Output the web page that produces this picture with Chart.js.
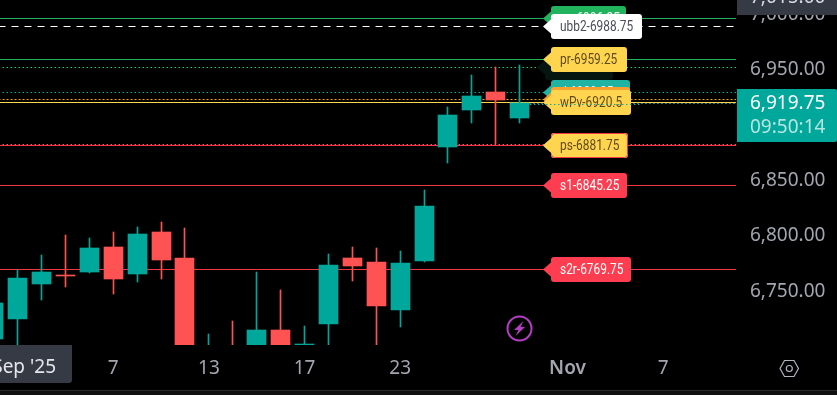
<!DOCTYPE html>
<html><head><meta charset="utf-8">
<style>html,body{margin:0;padding:0;background:#000;overflow:hidden}canvas{display:block}</style>
<script src="https://cdn.jsdelivr.net/npm/chart.js@4"></script>
</head><body><canvas id="c" width="837" height="395"></canvas>
<script>
const candleIndex = [0,1,2,3,4,5,6,7,8,9,10,11,12,13,14,15,16,17,18,19,20,21,22];
const opens  = [6707,6725.25,6756.75,6764.5,6767.5,6790,6765.75,6803.5,6780,6670,6695,6690,6715,6701.75,6720.5,6780,6776.5,6733.25,6777.5,6880.25,6913.75,6930,6906.5];
const closes = [6739.5,6762,6767.5,6764.25,6789.25,6761.25,6801.75,6778.25,6690,6695,6675,6715,6690,6702.5,6773.75,6773,6736.75,6775.5,6827,6909.25,6926.25,6922.75,6919.75];
const highs  = [6745,6769.5,6782.75,6800.75,6798.25,6803.5,6808,6812.5,6807.25,6711.5,6723.25,6767.5,6751.25,6718.75,6783.75,6790,6789.25,6786.5,6841.5,6916.25,6945.25,6952.5,6954.25];
const lows   = [6700,6695,6742.5,6754,6766.5,6747.75,6758.5,6761.25,6680,6660,6665,6685,6680,6701.75,6695,6759.25,6695,6717.75,6776.5,6865.75,6902,6883,6902];

const xTickValues = [5,9,13,17,24,28];
const xTickLabels = ['7','13','17','23','Nov','7'];
const yTickValues = [6750,6800,6850,6950,7000];
const yTickLabels = ['6,750.00','6,800.00','6,850.00','6,950.00','7,000.00'];

const levelValues = [6996.25,6988.75,6959.25,6951.75,6929.25,6922.75,6920.5,6919.75,6881.75,6882.5,6845.25,6769.75];
const levelColors = ['#22b35e','#ffffff','#22b35e','#22c55e','#14a89a','#f5a030','#ffd54f','#14a89a','#f23645','#ff4d6d','#f23645','#f23645'];
const levelDash   = [[],[7,6],[],[1.5,2.5],[1.5,2.5],[2,2],[],[1.5,2.5],[],[1.5,2.5],[],[]];
const levelStart  = [0,0,0,0,0,0,0,22.4,0,0,0,0];

const tagTexts  = ['pp-6996.25','ubb2-6988.75','wR-6951.75','pr-6959.25','tl-6929.25','oP-6922.75','wPv-6920.5','ps-6881.75','s1-6845.25','s2r-6769.75'];
const tagValues = [6996.25,6988.75,6951.75,6959.25,6929.25,6922.75,6920.5,6881.75,6845.25,6769.75];
const tagFills  = ['#22b35e','#ffffff','#04160f','#ffd54f','#1eb3a3','#f5a030','#ffd54f','#ffd54f','#ff3d50','#ff3d50'];
const tagInk    = ['#ffffff','#4a4e5a','#04160f','#5f4a20','#ffffff','#ffffff','#5f4a20','#5f4a20','#ffffff','#ffffff'];
const tagWidths = [75,91,68,76,79,79,80,77,76,80];

const GREEN='#00a79b', RED='#ff5252';
const candleColors = opens.map((o,i)=>closes[i]>=o?GREEN:RED);
const FONT='"Noto Sans"';

const wicks = candleIndex.map((x,i)=>({x,y:[lows[i],highs[i]]}));
const bodies = candleIndex.map((x,i)=>({x,y:[opens[i],closes[i]]}));

const levelSets = levelValues.map((v,i)=>({
  type:'line', order:5,
  data:[{x:levelStart[i]||0.2,y:v},{x:31.1,y:v}],
  borderColor:levelColors[i], borderWidth:1, borderDash:levelDash[i],
  pointRadius:0, tension:0, clip:true
}));

function rr(ctx,x,y,w,h,r){ctx.beginPath();ctx.roundRect(x,y,w,h,r);ctx.fill();}
function noPad(s){s.paddingLeft=0;s.paddingRight=0;s.paddingTop=0;s.paddingBottom=0;}

const snap = {
  id:'snap',
  beforeDatasetsDraw(chart){
    chart.data.datasets.forEach((d,i)=>{
      const meta=chart.getDatasetMeta(i);
      meta.data.forEach(el=>{
        if(d.type==='line'){el.y=Math.floor(el.y)+0.5;}
        else{
          el.x=Math.floor(el.x)+0.5;
          let a=Math.round(el.y),b=Math.round(el.base);
          if(a===b)b=a+1;
          el.y=a;el.base=b;
        }
      });
    });
  }
};

const overlay = {
  id:'overlay',
  beforeDraw(chart){
    const c=chart.ctx;
    c.save();c.fillStyle='#000';c.fillRect(0,0,837,395);
    c.fillStyle='#101010';c.fillRect(0,391,837,4);
    c.fillStyle='#2a2a2a';c.fillRect(0,390,837,1);
    c.restore();
  },
  afterDraw(chart){
    const c=chart.ctx, y=chart.scales.y;
    c.save();
    c.textBaseline='middle';c.textAlign='left';
    tagTexts.forEach((t,i)=>{
      const py=Math.floor(y.getPixelForValue(tagValues[i]))+0.5;
      const x0=i===2?545:551;
      c.fillStyle=tagFills[i];
      rr(c,x0,py-12.5,tagWidths[i],25,3);
      c.beginPath();c.moveTo(x0+1,py-8);c.lineTo(x0-8,py);c.lineTo(x0+1,py+8);c.closePath();c.fill();
      if(i===7){
        c.strokeStyle='#f23645';c.lineWidth=1;
        c.beginPath();c.roundRect(x0+.5,py-12,tagWidths[i]-1,24,3);c.stroke();
        c.fillStyle=tagFills[i];c.fillRect(x0,py-8,3,16);
        c.beginPath();c.moveTo(x0+1,py-8);c.lineTo(x0-8,py);c.lineTo(x0+1,py+8);c.closePath();c.fill();
      }
      c.save();
      c.translate(x0+9,py+0.5);c.scale(0.85,1);
      c.font='14px Roboto';c.fillStyle=tagInk[i];
      c.fillText(t,0,0);
      c.restore();
    });
    c.strokeStyle='#14a89a';c.setLineDash([1.5,2.5]);c.lineWidth=1;
    const dy=Math.floor(y.getPixelForValue(levelValues[7]))+1.5;
    c.beginPath();c.moveTo(530,dy);c.lineTo(640,dy);c.stroke();c.setLineDash([]);
    c.save();c.beginPath();c.rect(737,0,100,15);c.clip();
    c.fillStyle='#363a45';c.fillRect(737,0,100,15);
    c.fillStyle='#d8dbe2';c.font='19px '+FONT;c.textAlign='left';c.fillText('7,015.00',750,-2);
    c.restore();
    c.fillStyle='#00a79b';c.beginPath();c.roundRect(737,89,100,53,[0,2,2,0]);c.fill();
    c.textAlign='left';c.font='19px '+FONT;c.fillStyle='#ffffff';c.fillText('6,919.75',750,104);
    c.fillStyle='#b5e5e0';c.fillText('09:50:14',750,128);
    c.fillStyle='#363a45';c.beginPath();c.roundRect(-10,345,82,38,[0,0,3,0]);c.fill();
    c.fillStyle='#e4e6eb';c.textAlign='right';c.font='19px '+FONT;c.fillText("Sep '25",56,368);
    c.strokeStyle='#b53fc4';c.lineWidth=2;c.beginPath();c.arc(519.5,328.5,12,0,Math.PI*2);c.stroke();
    c.fillStyle='#b53fc4';c.beginPath();
    [[523.5,321],[514,330],[518.5,330],[515.5,336],[525,327],[520.5,327]].forEach((p,i)=>i?c.lineTo(p[0],p[1]):c.moveTo(p[0],p[1]));
    c.closePath();c.fill();
    c.strokeStyle='#b2b5be';c.lineWidth=1.2;c.beginPath();
    [[780,368.5],[784.5,360.5],[794,360.5],[798.5,368.5],[794,376.5],[784.5,376.5]].forEach((p,i)=>i?c.lineTo(p[0],p[1]):c.moveTo(p[0],p[1]));
    c.closePath();c.stroke();
    c.beginPath();c.arc(789.3,368.5,3,0,Math.PI*2);c.stroke();
    c.restore();
  }
};

new Chart(document.getElementById('c'),{
  data:{datasets:[
    ...levelSets,
    {type:'bar',order:2,data:wicks,backgroundColor:candleColors,barThickness:1,grouped:false,borderWidth:0},
    {type:'bar',order:1,data:bodies,backgroundColor:candleColors,barThickness:19,grouped:false,borderWidth:0}
  ]},
  options:{
    responsive:false,animation:false,devicePixelRatio:1,
    layout:{padding:0},
    plugins:{legend:{display:false},tooltip:{enabled:false}},
    scales:{
      x:{type:'linear',offset:false,min:0.26166,max:31.05,grid:{display:false,drawTicks:false,offset:false},border:{display:false},
        afterFit(s){s.height=50;noPad(s);},
        afterBuildTicks(s){s.ticks=xTickValues.map(value=>({value}));},
        ticks:{autoSkip:false,maxRotation:0,padding:12,color:'#a3a6af',
          font:c=>({family:FONT,size:19,weight:c.tick&&xTickLabels[xTickValues.indexOf(c.tick.value)]==='Nov'?'600':'400'}),
          callback:v=>xTickLabels[xTickValues.indexOf(v)]}},
      y:{type:'linear',position:'right',min:6701.62,max:7012.94,grid:{display:false,drawTicks:false},border:{display:false},
        afterFit(s){s.width=101;noPad(s);},
        afterBuildTicks(s){s.ticks=yTickValues.map(value=>({value}));},
        ticks:{autoSkip:false,padding:14,color:'#a3a6af',font:{family:FONT,size:19},
          callback:v=>yTickLabels[yTickValues.indexOf(v)]}}
    }
  },
  plugins:[snap,overlay]
});
</script></body></html>
